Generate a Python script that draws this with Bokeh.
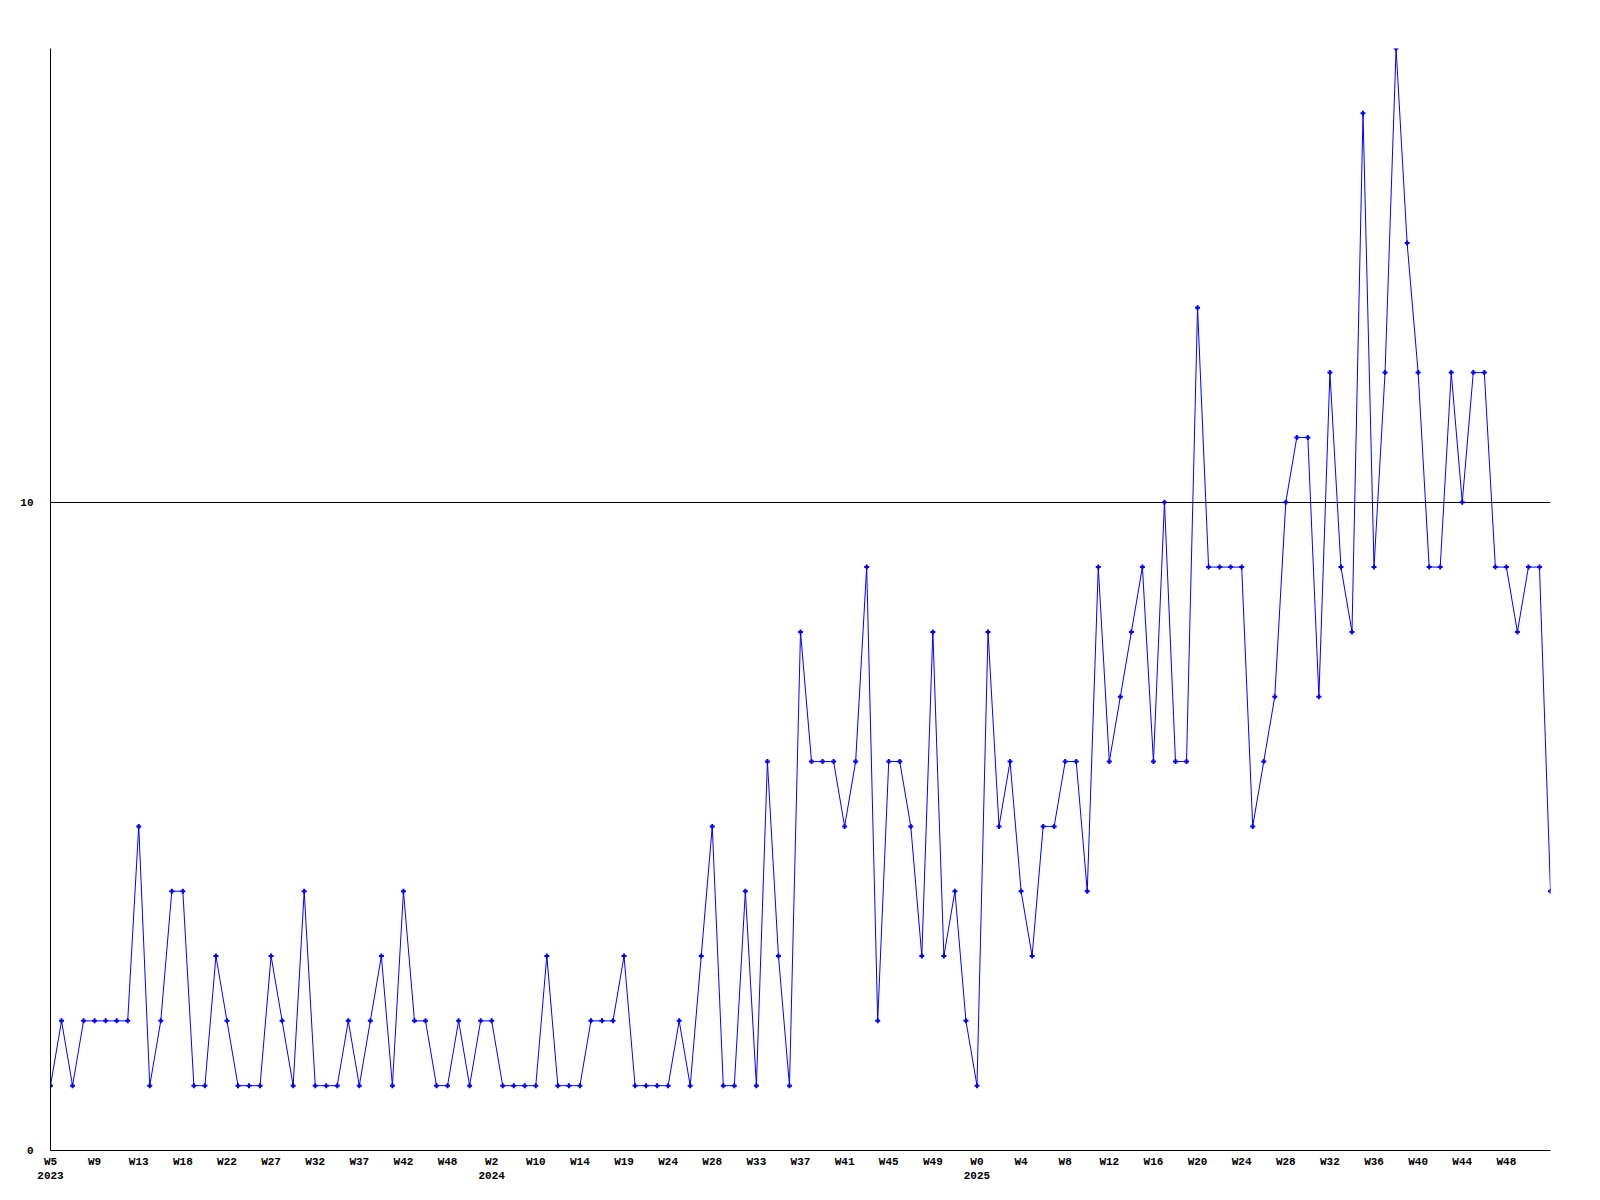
from bokeh.plotting import figure
from bokeh.models import FixedTicker, Range1d
from bokeh.embed import file_html
from bokeh.resources import INLINE

# weekly counts, in order of the x positions
counts = [1, 2, 1, 2, 2, 2, 2, 2, 5, 1,
          2, 4, 4, 1, 1, 3, 2, 1, 1, 1,
          3, 2, 1, 4, 1, 1, 1, 2, 1, 2,
          3, 1, 4, 2, 2, 1, 1, 2, 1, 2,
          2, 1, 1, 1, 1, 3, 1, 1, 1, 2,
          2, 2, 3, 1, 1, 1, 1, 2, 1, 3,
          5, 1, 1, 4, 1, 6, 3, 1, 8, 6,
          6, 6, 5, 6, 9, 2, 6, 6, 5, 3,
          8, 3, 4, 2, 1, 8, 5, 6, 4, 3,
          5, 5, 6, 6, 4, 9, 6, 7, 8, 9,
          6, 10, 6, 6, 13, 9, 9, 9, 9, 5,
          6, 7, 10, 11, 11, 7, 12, 9, 8, 16,
          9, 12, 17, 14, 12, 9, 9, 12, 10, 12,
          12, 9, 9, 8, 9, 9, 4]

# labels shown every 4th point
tick_labels = ["W5\n2023", "W9", "W13", "W18", "W22", "W27", "W32", "W37",
               "W42", "W48", "W2\n2024", "W10", "W14", "W19", "W24", "W28",
               "W33", "W37", "W41", "W45", "W49", "W0\n2025", "W4", "W8",
               "W12", "W16", "W20", "W24", "W28", "W32", "W36", "W40",
               "W44", "W48"]
label_every = 4
y_ticks = [0, 10]
y_max = 17

x = list(range(len(counts)))
tick_pos = [i * label_every for i in range(len(tick_labels))]

p = figure(frame_width=1500, frame_height=1102,
           x_range=Range1d(0, len(counts) - 1), y_range=Range1d(0, y_max),
           output_backend="svg", toolbar_location=None,
           min_border_left=50, min_border_top=48,
           min_border_right=20, min_border_bottom=42)

p.outline_line_color = None
p.background_fill_color = "white"
p.border_fill_color = "white"

p.line(x, counts, line_color="#0000ff", line_width=1)
p.scatter(x, counts, marker="cross", size=5, line_color="#0000ff", line_width=2)

p.xgrid.visible = False
p.ygrid.ticker = FixedTicker(ticks=[10])
p.ygrid.grid_line_color = "black"
p.ygrid.grid_line_alpha = 1.0
p.ygrid.grid_line_width = 1

for ax in (p.xaxis[0], p.yaxis[0]):
    ax.axis_line_color = "black"
    ax.axis_line_width = 1
    ax.major_tick_in = 0
    ax.major_tick_out = 0
    ax.minor_tick_in = 0
    ax.minor_tick_out = 0
    ax.major_label_text_font = "Liberation Mono"
    ax.major_label_text_font_style = "bold"
    ax.major_label_text_font_size = "11px"
    ax.major_label_text_color = "black"

p.xaxis.ticker = FixedTicker(ticks=tick_pos)
p.xaxis.major_label_overrides = {t: lab for t, lab in zip(tick_pos, tick_labels)}
p.xaxis.major_label_standoff = 5

p.yaxis.ticker = FixedTicker(ticks=y_ticks)
p.yaxis.major_label_standoff = 17

open("out.html", "w").write(file_html(p, INLINE))
